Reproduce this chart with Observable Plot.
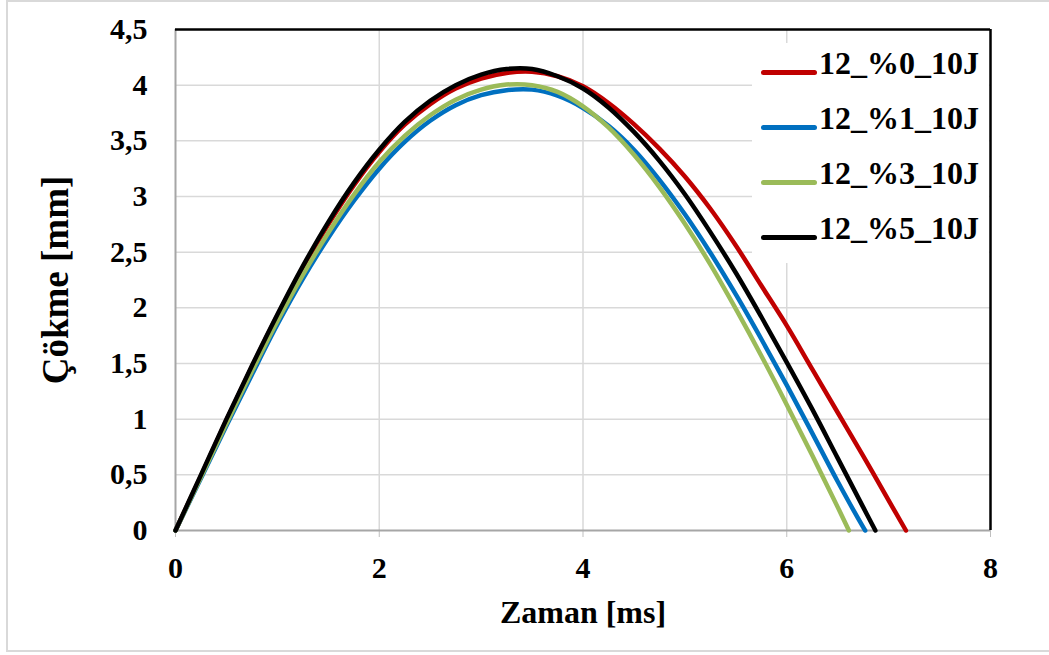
<!DOCTYPE html>
<html>
<head>
<meta charset="utf-8">
<script src="https://cdn.jsdelivr.net/npm/d3@7"></script>
<script src="https://cdn.jsdelivr.net/npm/@observablehq/plot@0.6"></script>
<style>
  body { margin: 0; background: #fff; }
  #wrap { position: relative; width: 1049px; height: 655px; overflow: hidden; background: #fff; }
  #frame { position: absolute; left: 6px; top: 0; width: 1100px; height: 652px; border: 2px solid #d9d9d9; box-sizing: border-box; }
  #chart { position: absolute; left: 0; top: 0; }
  #legend { position: absolute; left: 752px; top: 43px; width: 237px; height: 220px; background: #fff; }
  .row { position: absolute; left: 0; height: 55px; width: 237px; }
  .sw { position: absolute; left: 9px; top: 25.5px; width: 56px; height: 4.5px; border-radius: 3px; }
  .lb { position: absolute; left: 67px; top: 0; line-height: 55px; font: bold 32px "Liberation Serif", "Times New Roman", serif; color: #000; white-space: nowrap; }
</style>
</head>
<body>
<div id="wrap">
  <div id="frame"></div>
  <div id="chart"></div>
  <div id="legend"></div>
</div>
<script>
// Series labels and colours
const seriesNames = ["12_%0_10J", "12_%1_10J", "12_%3_10J", "12_%5_10J"];
const seriesColors = ["#C00000", "#0070C0", "#9BBB59", "#000000"];

// Zaman [ms] (t) and Çökme [mm] (v) readings per series
const t0 = [0, 0.25, 0.5, 0.75, 1.0, 1.25, 1.5, 1.75, 2.0, 2.25, 2.5, 2.75, 3.0, 3.25, 3.5, 3.75, 4.0, 4.25, 4.5, 4.75, 5.0, 5.25, 5.5, 5.75, 6.0, 6.25, 6.5, 6.75, 7.0, 7.17];
const v0 = [0, 0.49, 0.99, 1.47, 1.93, 2.36, 2.75, 3.10, 3.40, 3.645, 3.83, 3.97, 4.06, 4.11, 4.12, 4.08, 3.99, 3.84, 3.65, 3.43, 3.18, 2.89, 2.56, 2.20, 1.84, 1.45, 1.06, 0.67, 0.27, 0];

const t1 = [0, 0.25, 0.5, 0.75, 1.0, 1.25, 1.5, 1.75, 2.0, 2.25, 2.5, 2.75, 3.0, 3.25, 3.5, 3.75, 4.0, 4.25, 4.5, 4.75, 5.0, 5.25, 5.5, 5.75, 6.0, 6.25, 6.5, 6.75, 6.77];
const v1 = [0, 0.47, 0.94, 1.40, 1.85, 2.26, 2.63, 2.96, 3.25, 3.49, 3.68, 3.82, 3.91, 3.955, 3.96, 3.905, 3.795, 3.635, 3.42, 3.15, 2.84, 2.495, 2.12, 1.72, 1.305, 0.875, 0.44, 0.03, 0];

const t3 = [0, 0.25, 0.5, 0.75, 1.0, 1.25, 1.5, 1.75, 2.0, 2.25, 2.5, 2.75, 3.0, 3.25, 3.5, 3.75, 4.0, 4.25, 4.5, 4.75, 5.0, 5.25, 5.5, 5.75, 6.0, 6.25, 6.5, 6.61];
const v3 = [0, 0.48, 0.96, 1.43, 1.88, 2.295, 2.675, 3.015, 3.31, 3.545, 3.73, 3.87, 3.96, 4.005, 4.0, 3.94, 3.81, 3.62, 3.375, 3.085, 2.755, 2.39, 1.99, 1.57, 1.13, 0.675, 0.21, 0];

const t5 = [0, 0.25, 0.5, 0.75, 1.0, 1.25, 1.5, 1.75, 2.0, 2.25, 2.5, 2.75, 3.0, 3.25, 3.5, 3.75, 4.0, 4.25, 4.5, 4.75, 5.0, 5.25, 5.5, 5.75, 6.0, 6.25, 6.5, 6.75, 6.87];
const v5 = [0, 0.50, 1.00, 1.48, 1.94, 2.375, 2.77, 3.12, 3.42, 3.67, 3.86, 4.00, 4.095, 4.145, 4.145, 4.08, 3.97, 3.80, 3.58, 3.32, 3.02, 2.68, 2.315, 1.92, 1.51, 1.09, 0.65, 0.21, 0];

const xTicks = [0, 2, 4, 6, 8];
const yTicks = [0, 0.5, 1, 1.5, 2, 2.5, 3, 3.5, 4, 4.5];

const seriesT = [t0, t1, t3, t5];
const seriesV = [v0, v1, v3, v5];
const data = seriesNames.flatMap((name, i) => seriesT[i].map((t, j) => ({series: name, t, v: seriesV[i][j]})));

const fmt = d => String(d).replace(".", ",");

const chart = Plot.plot({
  width: 1049,
  height: 655,
  marginLeft: 175,
  marginRight: 59,
  marginTop: 29,
  marginBottom: 125,
  style: { fontFamily: "'Liberation Serif', 'Times New Roman', serif", fontWeight: "bold", fontSize: "30px", background: "transparent", color: "#000", overflow: "visible" },
  x: { domain: [0, 8] },
  y: { domain: [0, 4.5] },
  color: { domain: seriesNames, range: seriesColors },
  marks: [
    Plot.gridX(xTicks.slice(1, -1), { stroke: "#d9d9d9", strokeOpacity: 1, strokeWidth: 1.5 }),
    Plot.gridY(yTicks.slice(1, -1), { stroke: "#d9d9d9", strokeOpacity: 1, strokeWidth: 1.5 }),
    Plot.axisX(xTicks, { tickSize: 7, tickPadding: 19, stroke: "#bfbfbf", tickFormat: fmt, label: null }),
    Plot.axisY(yTicks, { tickSize: 0, tickPadding: 28, tickFormat: fmt, label: null }),
    Plot.ruleY([0], { stroke: "#a6a6a6", strokeWidth: 2 }),
    Plot.ruleX([0], { stroke: "#a6a6a6", strokeWidth: 2 }),
    Plot.ruleY([4.5], { stroke: "#000", strokeWidth: 2.5 }),
    Plot.ruleX([8], { stroke: "#000", strokeWidth: 2.5 }),
    Plot.line(data, { x: "t", y: "v", z: "series", stroke: "series", strokeWidth: 4.5, curve: "catmull-rom" }),
    Plot.text(["Zaman [ms]"], { frameAnchor: "bottom", dy: 82, fontSize: 32, fontWeight: "bold", textAnchor: "middle", lineAnchor: "middle" }),
    Plot.text(["Çökme [mm]"], { frameAnchor: "left", dx: -119, rotate: -90, fontSize: 37, fontWeight: "bold", textAnchor: "middle", lineAnchor: "middle" })
  ]
});
document.getElementById("chart").appendChild(chart);

const legend = document.getElementById("legend");
seriesNames.forEach((name, i) => {
  const row = document.createElement("div");
  row.className = "row";
  row.style.top = (1.5 + i * 55) + "px";
  const sw = document.createElement("div");
  sw.className = "sw";
  sw.style.background = seriesColors[i];
  const lb = document.createElement("div");
  lb.className = "lb";
  lb.textContent = name;
  row.appendChild(sw);
  row.appendChild(lb);
  legend.appendChild(row);
});
</script>
</body>
</html>
